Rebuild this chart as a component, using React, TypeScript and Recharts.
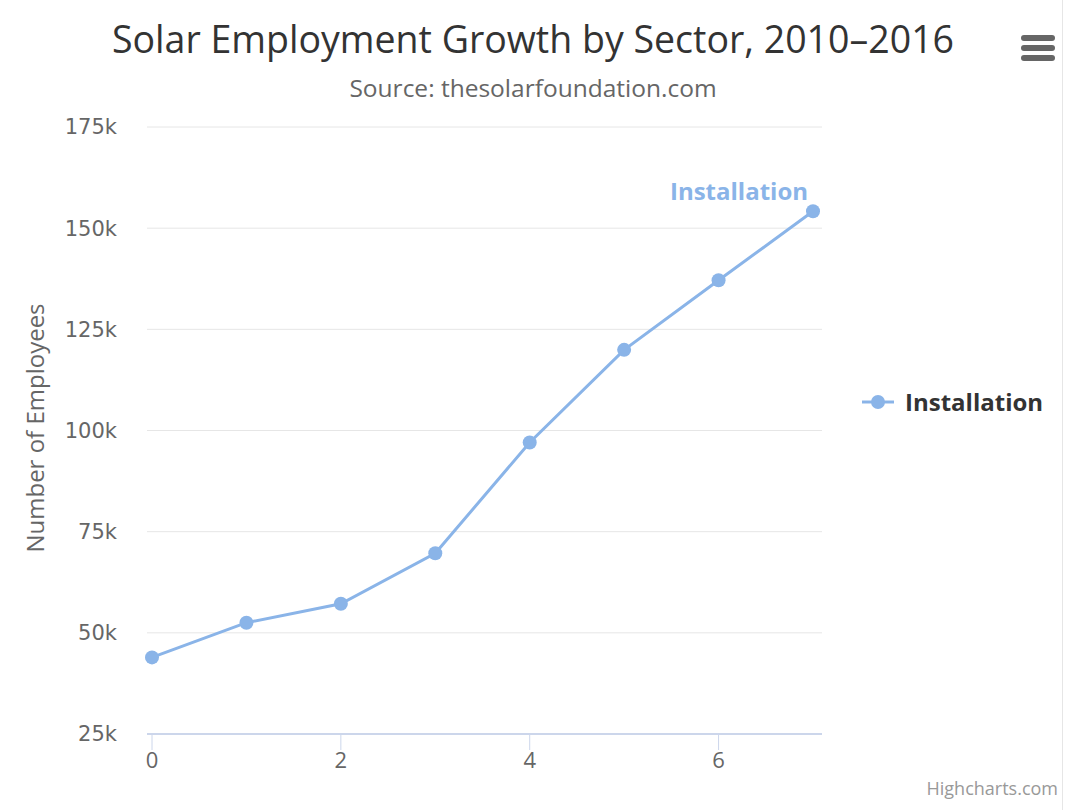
import React from "react";
import {
  LineChart,
  Line,
  XAxis,
  YAxis,
  CartesianGrid,
  LabelList,
  Legend,
} from "recharts";

// Données (Highcharts demo, lecture du graphique)
const years = [0, 1, 2, 3, 4, 5, 6, 7];
const installation = [43934, 52503, 57177, 69658, 97031, 119931, 137133, 154175];
const yTicks = [25000, 50000, 75000, 100000, 125000, 150000, 175000];
const xTicks = [0, 2, 4, 6];
const seriesName = "Installation";

const chartData = years.map((x, i) => ({ x, installation: installation[i] }));

const LINE_COLOR = "#8ab4e8";
const TICK_FONT = "'DejaVu Sans', sans-serif";
const TITLE_FONT = "'Open Sans', sans-serif";

// Étiquette seulement sur le dernier point
const EndLabel = (props: any) => {
  const { x, y, index } = props;
  if (index !== installation.length - 1) return null;
  return (
    <text
      x={x - 74}
      y={y - 11}
      textAnchor="middle"
      fill={LINE_COLOR}
      fontFamily={TITLE_FONT}
      fontWeight="bold"
      fontSize={24}
    >
      {seriesName}
    </text>
  );
};

const LegendBox = () => (
  <div style={{ display: "flex", alignItems: "center", fontFamily: TITLE_FONT }}>
    <svg width={32} height={16}>
      <line x1={0} y1={8} x2={32} y2={8} stroke={LINE_COLOR} strokeWidth={3} />
      <circle cx={16} cy={8} r={7} fill={LINE_COLOR} />
    </svg>
    <span style={{ marginLeft: 11, fontSize: 24, fontWeight: "bold", color: "#333" }}>
      {seriesName}
    </span>
  </div>
);

export default function App() {
  return (
    <div
      style={{
        position: "absolute",
        left: 0,
        top: 0,
        width: 1066,
        height: 810,
        background: "#fff",
        overflow: "hidden",
      }}
    >
      <div
        style={{
          position: "absolute",
          top: 13,
          width: 1066,
          textAlign: "center",
          fontFamily: TITLE_FONT,
          fontSize: 37.5,
          color: "#333",
        }}
      >
        Solar Employment Growth by Sector, 2010–2016
      </div>
      <div
        style={{
          position: "absolute",
          top: 71,
          width: 1066,
          textAlign: "center",
          fontFamily: TITLE_FONT,
          fontSize: 24.5,
          color: "#666",
        }}
      >
        Source: thesolarfoundation.com
      </div>

      {/* menu */}
      <svg style={{ position: "absolute", left: 1018, top: 30 }} width={40} height={34}>
        {[5, 15, 25].map((y) => (
          <rect key={y} x={3} y={y} width={34} height={6} rx={3} fill="#666" />
        ))}
      </svg>

      <div
        style={{
          position: "absolute",
          left: 34,
          top: 428,
          transform: "translate(-50%, -50%) rotate(-90deg)",
          fontFamily: TITLE_FONT,
          fontSize: 24,
          color: "#666",
          whiteSpace: "nowrap",
        }}
      >
        Number of Employees
      </div>

      <LineChart
        width={1066}
        height={810}
        data={chartData}
        margin={{ top: 127, left: 87, right: 44, bottom: 0 }}
        style={{ position: "absolute", left: 0, top: 0 }}
      >
        <CartesianGrid vertical={false} stroke="#e6e6e6" />
        <XAxis
          dataKey="x"
          type="number"
          domain={[0, 7]}
          ticks={xTicks}
          padding={{ left: 5, right: 9 }}
          height={76}
          stroke="#ccd6eb"
          tickSize={16}
          tickMargin={2}
          tick={{ fill: "#666", fontSize: 22, fontFamily: TITLE_FONT }}
          axisLine={{ stroke: "#ccd6eb", strokeWidth: 2 }}
        />
        <YAxis
          type="number"
          domain={[25000, 175000]}
          ticks={yTicks}
          width={60}
          axisLine={false}
          tickLine={false}
          tickSize={0}
          tickMargin={30}
          tickFormatter={(v: number) => `${v / 1000}k`}
          tick={{ fill: "#666", fontSize: 21, fontFamily: TICK_FONT }}
        />
        <Legend
          layout="vertical"
          align="right"
          verticalAlign="middle"
          content={<LegendBox />}
          wrapperStyle={{ left: 862, top: 385, width: 200 }}
        />
        <Line
          type="linear"
          dataKey="installation"
          name={seriesName}
          stroke={LINE_COLOR}
          strokeWidth={3}
          dot={{ r: 7, fill: LINE_COLOR, stroke: LINE_COLOR, strokeWidth: 0 }}
          activeDot={false}
          isAnimationActive={false}
        >
          <LabelList dataKey="installation" content={<EndLabel />} />
        </Line>
      </LineChart>

      <div
        style={{
          position: "absolute",
          right: 8,
          top: 776,
          fontFamily: TITLE_FONT,
          fontSize: 18,
          color: "#999",
        }}
      >
        Highcharts.com
      </div>
      <div
        style={{
          position: "absolute",
          left: 1062,
          top: 0,
          width: 1,
          height: 810,
          background: "#e6e6e6",
        }}
      />
    </div>
  );
}
